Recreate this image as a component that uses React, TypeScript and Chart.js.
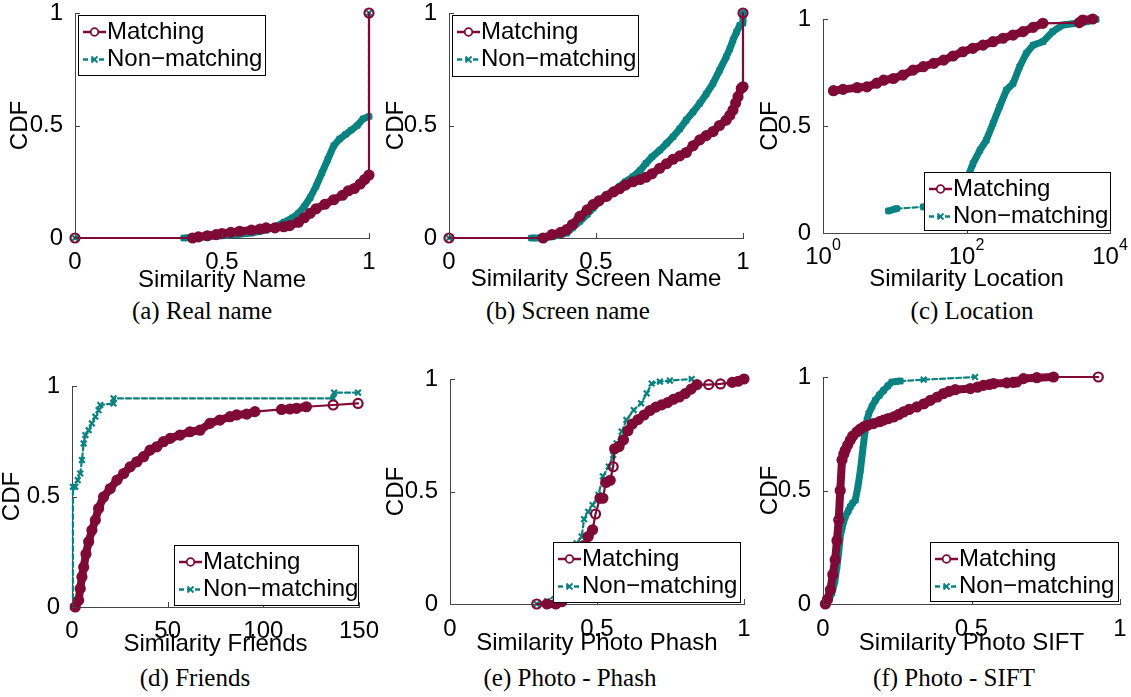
import React, { useEffect, useRef } from 'react';
import { Chart, registerables } from 'chart.js';

Chart.register(...registerables);

// ---------- data ----------
const SERIES_LABELS = ['Matching', 'Non−matching'];
const Y_TICKS = [0, 0.5, 1];
const Y_TICK_LABELS = ['0', '0.5', '1'];
const UNIT_TICKS = [0, 0.5, 1];
const UNIT_TICK_LABELS = ['0', '0.5', '1'];
const FRIENDS_TICKS = [0, 50, 100, 150];
const FRIENDS_TICK_LABELS = ['0', '50', '100', '150'];
const LOC_TICKS = [1, 100, 10000];
const LOC_TICK_BASE = '10';
const LOC_TICK_EXPONENTS = ['0', '2', '4'];

// (a) Real name
const aMatchX = [0, 0.40, 0.42, 0.45, 0.48, 0.50, 0.53, 0.56, 0.60, 0.63, 0.65, 0.68, 0.71, 0.73, 0.76, 0.78, 0.80, 0.82, 0.85, 0.88, 0.91, 0.93, 0.95, 0.97, 0.985, 1.0, 1.0];
const aMatchY = [0, 0, 0.005, 0.01, 0.015, 0.02, 0.025, 0.03, 0.035, 0.04, 0.045, 0.045, 0.05, 0.055, 0.07, 0.09, 0.11, 0.13, 0.15, 0.17, 0.19, 0.21, 0.22, 0.24, 0.26, 0.28, 1.0];
const aNonX = [0, 0.37, 0.40, 0.45, 0.50, 0.55, 0.60, 0.65, 0.68, 0.71, 0.74, 0.76, 0.78, 0.80, 0.82, 0.84, 0.86, 0.88, 0.90, 0.92, 0.94, 0.96, 0.98, 1.0, 1.0];
const aNonY = [0, 0, 0.002, 0.006, 0.01, 0.016, 0.022, 0.035, 0.05, 0.07, 0.09, 0.11, 0.14, 0.18, 0.23, 0.29, 0.35, 0.41, 0.44, 0.46, 0.48, 0.50, 0.53, 0.54, 1.0];

// (b) Screen name
const bMatchX = [0, 0.32, 0.35, 0.38, 0.40, 0.42, 0.445, 0.47, 0.49, 0.51, 0.536, 0.56, 0.58, 0.60, 0.626, 0.65, 0.67, 0.69, 0.717, 0.74, 0.762, 0.785, 0.807, 0.83, 0.853, 0.875, 0.898, 0.92, 0.943, 0.955, 0.966, 0.975, 0.983, 0.994, 1.0, 1.0];
const bMatchY = [0, 0, 0.015, 0.025, 0.037, 0.06, 0.096, 0.125, 0.148, 0.165, 0.185, 0.205, 0.219, 0.235, 0.25, 0.26, 0.27, 0.285, 0.31, 0.33, 0.35, 0.365, 0.38, 0.41, 0.436, 0.455, 0.473, 0.50, 0.524, 0.545, 0.569, 0.60, 0.628, 0.665, 0.672, 1.0];
const bNonX = [0, 0.28, 0.30, 0.32, 0.354, 0.38, 0.40, 0.42, 0.445, 0.47, 0.49, 0.51, 0.536, 0.56, 0.58, 0.60, 0.626, 0.65, 0.67, 0.69, 0.717, 0.74, 0.762, 0.785, 0.807, 0.83, 0.853, 0.875, 0.898, 0.92, 0.943, 0.955, 0.966, 0.978, 0.989, 1.0, 1.0];
const bNonY = [0, 0, 0, 0, 0.007, 0.015, 0.022, 0.045, 0.074, 0.105, 0.133, 0.16, 0.192, 0.21, 0.229, 0.25, 0.273, 0.30, 0.332, 0.36, 0.39, 0.42, 0.45, 0.485, 0.524, 0.56, 0.598, 0.64, 0.687, 0.745, 0.805, 0.84, 0.879, 0.915, 0.945, 0.955, 1.0];

// (c) Location (log x)
const cMatchX = [1.4, 1.9, 3.0, 4.1, 5.6, 7.0, 9.6, 13, 18, 25, 35, 48, 65, 89, 123, 170, 234, 323, 446, 614, 848, 1160, 3740, 4170, 5740];
const cMatchY = [0.665, 0.671, 0.679, 0.683, 0.70, 0.714, 0.722, 0.738, 0.761, 0.777, 0.793, 0.808, 0.827, 0.847, 0.863, 0.878, 0.894, 0.91, 0.925, 0.941, 0.961, 0.98, 0.983, 0.995, 1.0];
const cNonX = [8.2, 10.6, 25, 40, 70, 100, 123, 154, 189, 234, 289, 360, 446, 550, 680, 848, 1160, 1590, 2200, 3380, 4670, 6400];
const cNonY = [0.103, 0.114, 0.122, 0.14, 0.18, 0.246, 0.324, 0.387, 0.434, 0.512, 0.59, 0.668, 0.699, 0.777, 0.839, 0.878, 0.894, 0.941, 0.972, 0.98, 0.987, 0.998];

// (d) Friends
const dMatchX = [1.7, 3.5, 4.3, 5.2, 6.1, 7.3, 8.7, 10.4, 12.2, 13.9, 16.5, 20, 23.5, 27, 30.4, 33.9, 37.4, 40.8, 44.3, 47.8, 51.3, 56.5, 61.7, 66.9, 72.1, 77.3, 82.6, 86, 91.3, 95.6, 109.5, 113.9, 117.3, 122.5, 136.5, 149.5];
const dMatchY = [0, 0.03, 0.083, 0.136, 0.18, 0.24, 0.295, 0.347, 0.393, 0.446, 0.498, 0.536, 0.574, 0.604, 0.634, 0.657, 0.68, 0.71, 0.725, 0.748, 0.763, 0.778, 0.793, 0.80, 0.831, 0.846, 0.861, 0.869, 0.873, 0.884, 0.894, 0.896, 0.899, 0.906, 0.914, 0.921];
const dNonX = [0.5, 0.5, 1.7, 3.0, 4.3, 5.2, 6.1, 7.0, 8.7, 10.4, 12.2, 13.9, 14.8, 21.7, 21.7, 136.5, 137, 149.5];
const dNonY = [0, 0.544, 0.544, 0.574, 0.604, 0.665, 0.74, 0.778, 0.80, 0.831, 0.861, 0.891, 0.914, 0.921, 0.944, 0.944, 0.97, 0.97];

// (e) Photo - Phash
const eMatchX = [0.295, 0.33, 0.36, 0.38, 0.40, 0.42, 0.44, 0.455, 0.47, 0.485, 0.495, 0.51, 0.52, 0.53, 0.545, 0.555, 0.56, 0.575, 0.59, 0.605, 0.62, 0.64, 0.66, 0.68, 0.70, 0.72, 0.74, 0.76, 0.78, 0.80, 0.82, 0.84, 0.88, 0.92, 0.96, 0.98, 1.0];
const eMatchY = [0, 0, 0, 0.01, 0.05, 0.12, 0.21, 0.26, 0.30, 0.33, 0.40, 0.47, 0.47, 0.54, 0.55, 0.61, 0.69, 0.70, 0.73, 0.77, 0.80, 0.82, 0.84, 0.86, 0.875, 0.885, 0.895, 0.91, 0.92, 0.935, 0.955, 0.975, 0.975, 0.978, 0.985, 0.99, 1.0];
const eNonX = [0.295, 0.33, 0.38, 0.41, 0.431, 0.448, 0.456, 0.47, 0.485, 0.505, 0.52, 0.54, 0.555, 0.567, 0.584, 0.60, 0.625, 0.65, 0.669, 0.686, 0.714, 0.748, 0.822];
const eNonY = [0, 0.012, 0.06, 0.17, 0.27, 0.30, 0.377, 0.41, 0.44, 0.485, 0.567, 0.611, 0.663, 0.714, 0.766, 0.818, 0.862, 0.892, 0.936, 0.98, 0.988, 0.993, 1.0];

// (f) Photo - SIFT
const fMatchX = [0.008, 0.015, 0.025, 0.033, 0.041, 0.047, 0.053, 0.058, 0.064, 0.07, 0.075, 0.083, 0.092, 0.10, 0.114, 0.125, 0.137, 0.15, 0.17, 0.19, 0.204, 0.22, 0.238, 0.255, 0.271, 0.29, 0.316, 0.34, 0.361, 0.385, 0.406, 0.425, 0.445, 0.496, 0.52, 0.54, 0.56, 0.574, 0.619, 0.64, 0.652, 0.675, 0.72, 0.776, 0.927];
const fMatchY = [0, 0.02, 0.063, 0.13, 0.195, 0.28, 0.37, 0.50, 0.634, 0.66, 0.678, 0.70, 0.722, 0.74, 0.758, 0.77, 0.78, 0.787, 0.795, 0.803, 0.81, 0.817, 0.824, 0.835, 0.846, 0.857, 0.868, 0.882, 0.897, 0.912, 0.927, 0.937, 0.944, 0.949, 0.955, 0.963, 0.967, 0.971, 0.974, 0.976, 0.978, 0.993, 0.997, 1.0, 1.0];
const fNonX = [0.008, 0.02, 0.03, 0.04, 0.047, 0.053, 0.058, 0.065, 0.075, 0.085, 0.092, 0.10, 0.109, 0.118, 0.126, 0.134, 0.142, 0.148, 0.154, 0.165, 0.176, 0.19, 0.204, 0.218, 0.232, 0.26, 0.339, 0.512];
const fNonY = [0, 0.02, 0.048, 0.10, 0.165, 0.23, 0.297, 0.34, 0.385, 0.41, 0.429, 0.445, 0.458, 0.52, 0.59, 0.68, 0.766, 0.81, 0.839, 0.87, 0.897, 0.92, 0.941, 0.96, 0.978, 0.982, 0.988, 1.0];

// ---------- styles / layout ----------
const MAROON = '#7f0a36';
const TEAL = '#0a8282';
const SANS = '"Liberation Sans", Arial, Helvetica, sans-serif';
const SERIF = '"Liberation Serif", "Times New Roman", serif';
const AXIS_COLOR = '#444';

type Geom = { cx: number; cy: number; w: number; h: number; L: number; T: number; R: number; B: number };

const panels = [
  {
    caption: '(a) Real name', capX: 202, capY: 309.5, xTitle: 'Similarity Name', xType: 'linear', xMin: 0, xMax: 1,
    xTicks: UNIT_TICKS, xTickLabels: UNIT_TICK_LABELS, mx: aMatchX, my: aMatchY, nx: aNonX, ny: aNonY,
    geom: { cx: 6, cy: 0, w: 373, h: 295, L: 75, T: 13, R: 369, B: 238 }, tickPad: 2,
    legend: { dx: 3, dy: 2, w: 187, h: 60 }, bandM: 22, bandN: 22,
  },
  {
    caption: '(b) Screen name', capX: 568, capY: 309.5, xTitle: 'Similarity Screen Name', xType: 'linear', xMin: 0, xMax: 1,
    xTicks: UNIT_TICKS, xTickLabels: UNIT_TICK_LABELS, mx: bMatchX, my: bMatchY, nx: bNonX, ny: bNonY,
    geom: { cx: 382, cy: 0, w: 374, h: 294, L: 449, T: 13, R: 743, B: 238 }, tickPad: 2,
    legend: { dx: 3, dy: 2, w: 186, h: 61 }, bandM: 24, bandN: 24,
  },
  {
    caption: '(c) Location', capX: 972, capY: 309.5, xTitle: 'Similarity Location', xType: 'logarithmic', xMin: 1, xMax: 10000,
    xTicks: LOC_TICKS, xTickLabels: null, power: { base: LOC_TICK_BASE, exps: LOC_TICK_EXPONENTS },
    mx: cMatchX, my: cMatchY, nx: cNonX, ny: cNonY,
    geom: { cx: 756, cy: 0, w: 375, h: 294, L: 823, T: 19, R: 1110, B: 233 }, tickPad: 2,
    legend: { dx: 101, dy: 153, w: 186, h: 58 }, bandM: 20, bandN: 20,
  },
  {
    caption: '(d) Friends', capX: 195, capY: 677, xTitle: 'Similarity Friends', xType: 'linear', xMin: 0, xMax: 150,
    xTicks: FRIENDS_TICKS, xTickLabels: FRIENDS_TICK_LABELS, mx: dMatchX, my: dMatchY, nx: dNonX, ny: dNonY,
    geom: { cx: -2, cy: 360, w: 384, h: 299, L: 72, T: 386, R: 359, B: 607 }, tickPad: 2,
    legend: { dx: 102, dy: 159, w: 184, h: 60 }, bandM: 14, bandN: 0,
  },
  {
    caption: '(e) Photo - Phash', capX: 570, capY: 677, xTitle: 'Similarity Photo Phash', xType: 'linear', xMin: 0, xMax: 1,
    xTicks: UNIT_TICKS, xTickLabels: UNIT_TICK_LABELS, mx: eMatchX, my: eMatchY, nx: eNonX, ny: eNonY,
    geom: { cx: 382, cy: 360, w: 374, h: 298, L: 450, T: 379, R: 744, B: 604 }, tickPad: 3,
    legend: { dx: 103, dy: 163, w: 187, h: 60 }, bandM: 10, bandN: 0,
  },
  {
    caption: '(f) Photo - SIFT', capX: 954, capY: 677, xTitle: 'Similarity Photo SIFT', xType: 'linear', xMin: 0, xMax: 1,
    xTicks: UNIT_TICKS, xTickLabels: UNIT_TICK_LABELS, mx: fMatchX, my: fMatchY, nx: fNonX, ny: fNonY,
    geom: { cx: 756, cy: 360, w: 375, h: 298, L: 823, T: 377, R: 1120, B: 604 }, tickPad: 3,
    legend: { dx: 107, dy: 165, w: 188, h: 59 }, bandM: 35, bandN: 22,
  },
];

// ---------- plugins ----------
const innerTicks = {
  id: 'innerTicks',
  afterDatasetsDraw(chart: any) {
    const { ctx, chartArea, scales } = chart;
    ctx.save();
    ctx.strokeStyle = AXIS_COLOR;
    ctx.lineWidth = 1;
    ctx.beginPath();
    scales.x.ticks.forEach((t: any) => {
      const px = Math.round(scales.x.getPixelForValue(t.value)) + 0.5;
      ctx.moveTo(px, chartArea.bottom);
      ctx.lineTo(px, chartArea.bottom - 5);
    });
    scales.y.ticks.forEach((t: any) => {
      const py = Math.round(scales.y.getPixelForValue(t.value)) + 0.5;
      ctx.moveTo(chartArea.left, py);
      ctx.lineTo(chartArea.left + 5, py);
    });
    ctx.stroke();
    ctx.restore();
  },
};

// draws "10" with a raised exponent under each tick of a log axis
const powerTicks = {
  id: 'powerTicks',
  afterDraw(chart: any, _args: any, opts: any) {
    if (!opts || !opts.base) return;
    const { ctx, chartArea, scales } = chart;
    ctx.save();
    ctx.fillStyle = '#000';
    ctx.textBaseline = 'alphabetic';
    ctx.textAlign = 'left';
    scales.x.ticks.forEach((t: any, i: number) => {
      const px = scales.x.getPixelForValue(t.value);
      ctx.font = `24px ${SANS}`;
      const wb = ctx.measureText(opts.base).width;
      ctx.font = `16px ${SANS}`;
      const we = ctx.measureText(opts.exps[i]).width;
      const x0 = px - (wb + we) / 2;
      ctx.font = `24px ${SANS}`;
      ctx.fillText(opts.base, x0, chartArea.bottom + 31);
      ctx.font = `16px ${SANS}`;
      ctx.fillText(opts.exps[i], x0 + wb, chartArea.bottom + 17);
    });
    ctx.restore();
  },
};

const boxLegend = {
  id: 'boxLegend',
  afterDatasetsDraw(chart: any, _args: any, opts: any) {
    if (!opts || !opts.w) return;
    const { ctx, chartArea } = chart;
    const x = Math.round(chartArea.left + opts.dx);
    const y = Math.round(chartArea.top + opts.dy);
    ctx.save();
    ctx.fillStyle = '#fff';
    ctx.fillRect(x, y, opts.w, opts.h);
    ctx.strokeStyle = '#000';
    ctx.lineWidth = 1;
    ctx.strokeRect(x + 0.5, y + 0.5, opts.w, opts.h);
    const rows = [17, 44.5];
    chart.data.datasets.forEach((ds: any, i: number) => {
      const ry = y + rows[i];
      ctx.strokeStyle = ds.borderColor;
      ctx.lineWidth = 2.5;
      ctx.setLineDash(ds.borderDash || []);
      ctx.beginPath();
      ctx.moveTo(x + 5, ry);
      ctx.lineTo(x + 28, ry);
      ctx.stroke();
      ctx.setLineDash([]);
      const mx = x + 16.5;
      ctx.lineWidth = 1.8;
      if (ds.pointStyle === 'circle') {
        ctx.fillStyle = '#fff';
        ctx.beginPath();
        ctx.arc(mx, ry, 3.8, 0, Math.PI * 2);
        ctx.fill();
        ctx.stroke();
      } else {
        const r = 3;
        ctx.beginPath();
        ctx.moveTo(mx - r, ry - r);
        ctx.lineTo(mx + r, ry + r);
        ctx.moveTo(mx - r, ry + r);
        ctx.lineTo(mx + r, ry - r);
        ctx.stroke();
      }
      ctx.fillStyle = '#000';
      ctx.font = `24px ${SANS}`;
      ctx.textBaseline = 'middle';
      ctx.textAlign = 'left';
      ctx.fillText(ds.label, x + 29, ry);
    });
    ctx.restore();
  },
};

// ---------- components ----------
function Panel({ p }: { p: any }) {
  const ref = useRef<HTMLCanvasElement>(null);
  useEffect(() => {
    const g: Geom = p.geom;
    const mk = (xs: number[], ys: number[]) => xs.map((x, i) => ({ x, y: ys[i] }));
    const segLen = (c: any) => Math.hypot(c.p1.x - c.p0.x, c.p1.y - c.p0.y);
    const chart = new Chart(ref.current as HTMLCanvasElement, {
      type: 'line',
      data: {
        datasets: [
          {
            label: SERIES_LABELS[0],
            data: mk(p.mx, p.my),
            borderColor: MAROON,
            borderWidth: 2.2,
            pointStyle: 'circle',
            pointRadius: 4.5,
            pointBorderWidth: 2.2,
            pointBorderColor: MAROON,
            pointBackgroundColor: 'rgba(0,0,0,0)',
            clip: false,
            segment: {
              borderWidth: (c: any) => (p.bandM > 0 && segLen(c) < p.bandM ? 8 : 2.2),
            },
          } as any,
          {
            label: SERIES_LABELS[1],
            data: mk(p.nx, p.ny),
            borderColor: TEAL,
            borderWidth: 2.2,
            borderDash: [5, 3],
            pointStyle: 'crossRot',
            pointRadius: 4,
            pointBorderWidth: 2.2,
            pointBorderColor: TEAL,
            pointBackgroundColor: TEAL,
            clip: false,
            segment: {
              borderWidth: (c: any) => (p.bandN > 0 && segLen(c) < p.bandN ? 7 : 2.2),
              borderDash: (c: any) => (p.bandN > 0 && segLen(c) < p.bandN ? [] : [5, 3]),
            },
          } as any,
        ],
      },
      options: {
        animation: false,
        responsive: false,
        events: [],
        layout: { padding: { left: 0, top: g.T - g.cy, right: g.cx + g.w - g.R, bottom: 0 } },
        elements: { line: { tension: 0, borderJoinStyle: 'round', borderCapStyle: 'round' } },
        plugins: {
          legend: { display: false },
          tooltip: { enabled: false },
          boxLegend: p.legend,
          powerTicks: p.power || {},
        } as any,
        scales: {
          x: {
            type: p.xType,
            min: p.xMin,
            max: p.xMax,
            grid: { display: false },
            border: { display: true, color: AXIS_COLOR, width: 1 },
            afterBuildTicks: (s: any) => {
              s.ticks = p.xTicks.map((v: number) => ({ value: v }));
            },
            afterFit: (s: any) => {
              s.height = g.cy + g.h - g.B;
              s.paddingLeft = 0;
              s.paddingRight = 0;
            },
            ticks: {
              autoSkip: false,
              maxRotation: 0,
              minRotation: 0,
              padding: p.tickPad,
              color: '#000',
              font: { size: 24, family: SANS },
              callback: (_v: any, i: number) => (p.xTickLabels ? p.xTickLabels[i] : ''),
            },
            title: {
              display: true,
              text: p.xTitle,
              color: '#000',
              font: { size: 24, family: SANS },
              padding: 0,
            },
          },
          y: {
            type: 'linear',
            min: 0,
            max: 1,
            grid: { display: false },
            border: { display: true, color: AXIS_COLOR, width: 1 },
            afterBuildTicks: (s: any) => {
              s.ticks = Y_TICKS.map((v) => ({ value: v }));
            },
            afterFit: (s: any) => {
              s.width = g.L - g.cx;
              s.paddingTop = 0;
              s.paddingBottom = 0;
            },
            ticks: {
              autoSkip: false,
              padding: 4,
              color: '#000',
              font: { size: 24, family: SANS },
              callback: (_v: any, i: number) => Y_TICK_LABELS[i],
            },
            title: {
              display: true,
              text: 'CDF',
              color: '#000',
              font: { size: 24, family: SANS },
              padding: 0,
            },
          },
        } as any,
      },
      plugins: [innerTicks, boxLegend, powerTicks],
    });
    return () => chart.destroy();
  }, []);
  const g: Geom = p.geom;
  return (
    <canvas
      ref={ref}
      width={g.w}
      height={g.h}
      style={{ position: 'absolute', left: g.cx, top: g.cy, width: g.w, height: g.h }}
    />
  );
}

export default function App() {
  return (
    <div
      style={{
        position: 'absolute',
        left: 0,
        top: 0,
        width: 1131,
        height: 697,
        background: '#fff',
        overflow: 'hidden',
      }}
    >
      {panels.map((p, i) => (
        <Panel key={i} p={p} />
      ))}
      {panels.map((p, i) => (
        <div
          key={'c' + i}
          style={{
            position: 'absolute',
            left: p.capX,
            top: p.capY,
            transform: 'translate(-50%, -50%)',
            fontFamily: SERIF,
            fontSize: 25,
            lineHeight: 1,
            whiteSpace: 'nowrap',
            color: '#000',
          }}
        >
          {p.caption}
        </div>
      ))}
    </div>
  );
}
